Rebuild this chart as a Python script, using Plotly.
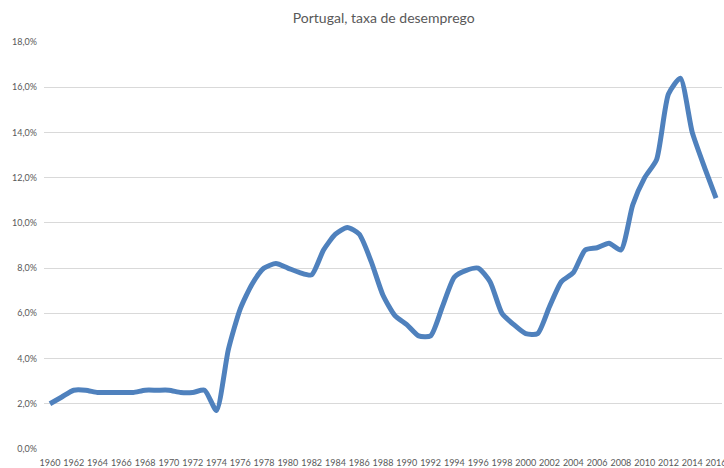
import plotly.graph_objects as go

years = list(range(1960, 2017))
unemployment = [
    2.0, 2.3, 2.6, 2.6, 2.5, 2.5, 2.5, 2.5, 2.6, 2.6,
    2.6, 2.5, 2.5, 2.6, 1.7, 4.4, 6.2, 7.3, 8.0, 8.2,
    8.0, 7.8, 7.7, 8.8, 9.5, 9.8, 9.5, 8.3, 6.8, 5.9,
    5.5, 5.0, 5.0, 6.3, 7.6, 7.9, 8.0, 7.4, 6.0, 5.5,
    5.1, 5.1, 6.3, 7.4, 7.8, 8.8, 8.9, 9.1, 8.8, 10.8,
    12.0, 12.8, 15.7, 16.4, 14.0, 12.5, 11.1,
]
y_ticks = [0, 2, 4, 6, 8, 10, 12, 14, 16, 18]
y_tick_labels = ["0,0%", "2,0%", "4,0%", "6,0%", "8,0%", "10,0%", "12,0%", "14,0%", "16,0%", "18,0%"]
x_ticks = list(range(1960, 2017, 2))

fig = go.Figure()
fig.add_trace(go.Scatter(
    x=years, y=unemployment, mode="lines",
    line=dict(color="#4F81BD", width=5, shape="spline", smoothing=0.6),
    hoverinfo="skip", showlegend=False,
))

fig.update_layout(
    width=724, height=468,
    margin=dict(l=44, r=2, t=42, b=19),
    paper_bgcolor="white", plot_bgcolor="white",
    title=dict(text="Portugal, taxa de desemprego", x=0.53, xanchor="center",
               y=0.962, yanchor="middle",
               font=dict(family="Lato, Open Sans, sans-serif", size=14, color="#595959")),
    font=dict(family="Lato, Open Sans, sans-serif", size=9, color="#595959"),
    xaxis=dict(range=[1959.5, 2016.5], tickvals=x_ticks, ticktext=[str(v) for v in x_ticks],
               showgrid=False, zeroline=False, showline=False, ticks="",
               tickangle=0, tickfont=dict(size=9), automargin=False,
               ticklabeloverflow="allow", ticklabelstandoff=7),
    yaxis=dict(range=[0, 18], tickvals=y_ticks, ticktext=y_tick_labels,
               showgrid=True, gridcolor="#D9D9D9", gridwidth=1, zeroline=False,
               showline=False, ticks="", ticklabelstandoff=6, tickfont=dict(size=9),
               automargin=False),
)

fig.write_html("out.html", config={"displayModeBar": False},
               post_script="document.body.style.margin='0';document.body.style.overflow='hidden';")
